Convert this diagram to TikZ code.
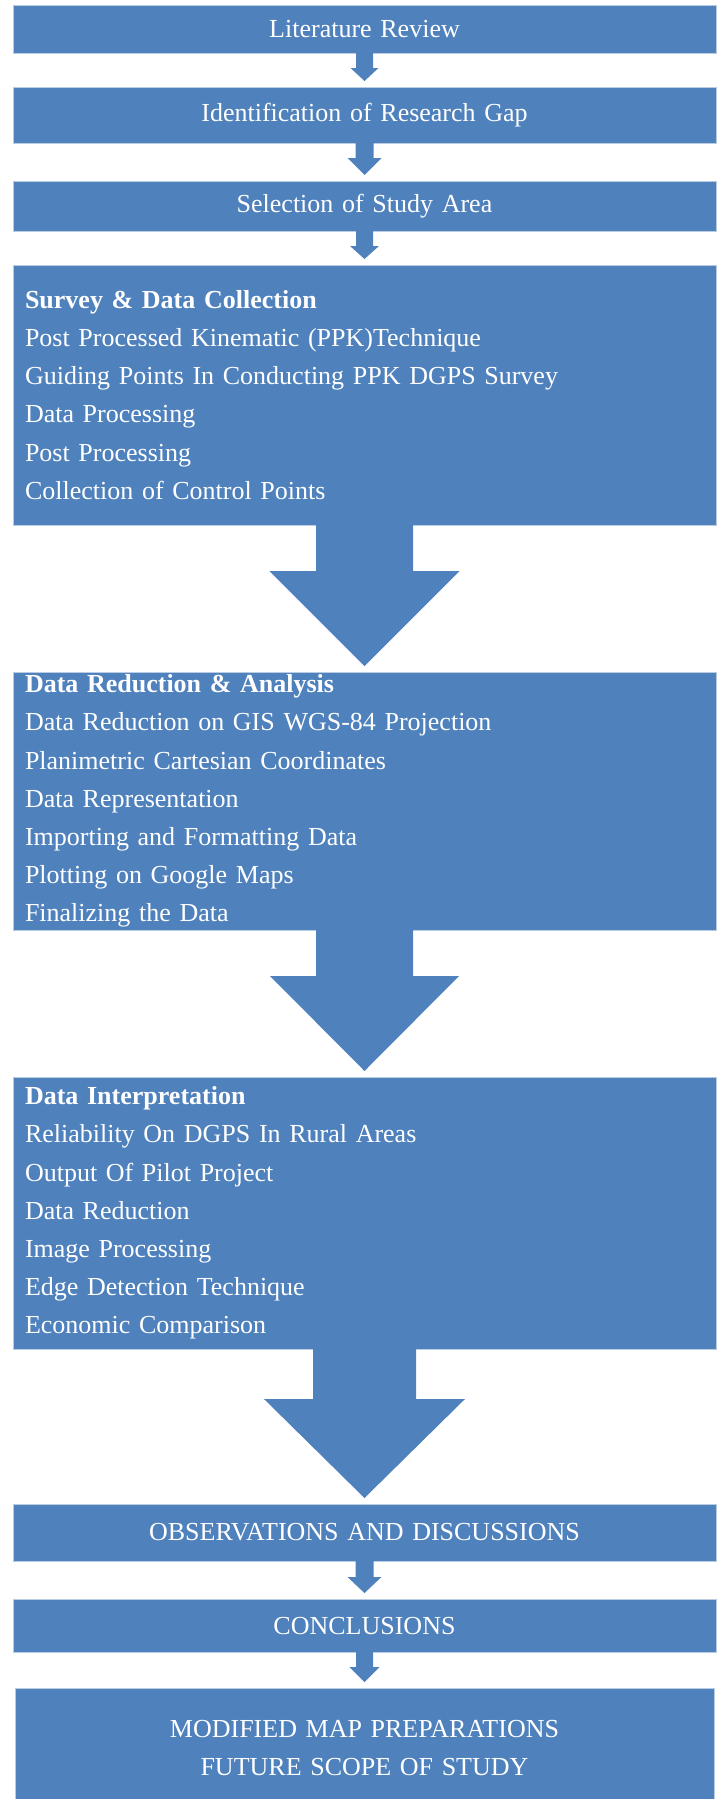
\documentclass[tikz,border=0pt]{standalone}
\usepackage{fontspec}
\setmainfont{Liberation Serif}
\usetikzlibrary{positioning, calc}

\definecolor{flowblue}{HTML}{4F81BD}
\definecolor{flowedge}{HTML}{B9CCE4}

% block arrow: #1 from, #2 to, #3 half shaft, #4 half head, #5 head length
\newcommand{\blockarrow}[5]{%
  \fill[flowblue] let \p1=(#1.south), \p2=(#2.north) in
    (\x1-#3,\y1+1pt) -- (\x1+#3,\y1+1pt) -- (\x1+#3,\y2+6pt+#5) -- (\x1+#4,\y2+6pt+#5)
    -- (\x1,\y2+6pt) -- (\x1-#4,\y2+6pt+#5) -- (\x1-#3,\y2+6pt+#5) -- cycle;}

\begin{document}
\begin{tikzpicture}[
    stage/.style={rectangle, fill=flowblue, draw=flowedge, line width=0.8pt, outer sep=0pt,
      inner xsep=12pt, inner ysep=0pt, text=white, text width=679pt, align=center,
      font=\fontsize{26pt}{38.2pt}\selectfont},
    list/.style={stage, align=left},
    node distance=34pt
]
\useasboundingbox (0,0) rectangle (721pt,-1799pt);

\node[stage, minimum height=48pt, anchor=north] (lit) at (364.5pt,-5pt) {Literature Review};
\node[stage, minimum height=56pt, below=of lit] (gap) {Identification of Research Gap};
\node[stage, minimum height=50pt, below=38pt of gap] (area) {Selection of Study Area};
\node[list, minimum height=260pt, below=of area] (survey) {\textbf{Survey \& Data Collection}\\
  Post Processed Kinematic (PPK)Technique\\
  Guiding Points In Conducting PPK DGPS Survey\\
  Data Processing\\
  Post Processing\\
  Collection of Control Points};
\node[list, minimum height=258pt, below=147pt of survey] (reduction) {\textbf{Data Reduction \& Analysis}\\
  Data Reduction on GIS WGS-84 Projection\\
  Planimetric Cartesian Coordinates\\
  Data Representation\\
  Importing and Formatting Data\\
  Plotting on Google Maps\\
  Finalizing the Data};
\node[list, minimum height=272pt, below=147pt of reduction] (interp) {\textbf{Data Interpretation}\\
  Reliability On DGPS In Rural Areas\\
  Output Of Pilot Project\\
  Data Reduction\\
  Image Processing\\
  Edge Detection Technique\\
  Economic Comparison};
\node[stage, minimum height=57pt, below=155pt of interp] (obs) {OBSERVATIONS AND DISCUSSIONS};
\node[stage, minimum height=53pt, below=38pt of obs] (concl) {CONCLUSIONS};
\node[stage, text width=675pt, minimum height=120pt, below=36pt of concl] (final) {MODIFIED MAP PREPARATIONS\\FUTURE SCOPE OF STUDY};

\blockarrow{lit}{gap}{8.5pt}{14pt}{13pt}
\blockarrow{gap}{area}{9pt}{17pt}{17pt}
\blockarrow{area}{survey}{8.5pt}{14.5pt}{13pt}
\blockarrow{survey}{reduction}{48.5pt}{95pt}{95pt}
\blockarrow{reduction}{interp}{48.5pt}{94.5pt}{95pt}
\blockarrow{interp}{obs}{51.5pt}{100.5pt}{99pt}
\blockarrow{obs}{concl}{9pt}{17pt}{16pt}
\blockarrow{concl}{final}{8.5pt}{15pt}{15pt}
\end{tikzpicture}
\end{document}
